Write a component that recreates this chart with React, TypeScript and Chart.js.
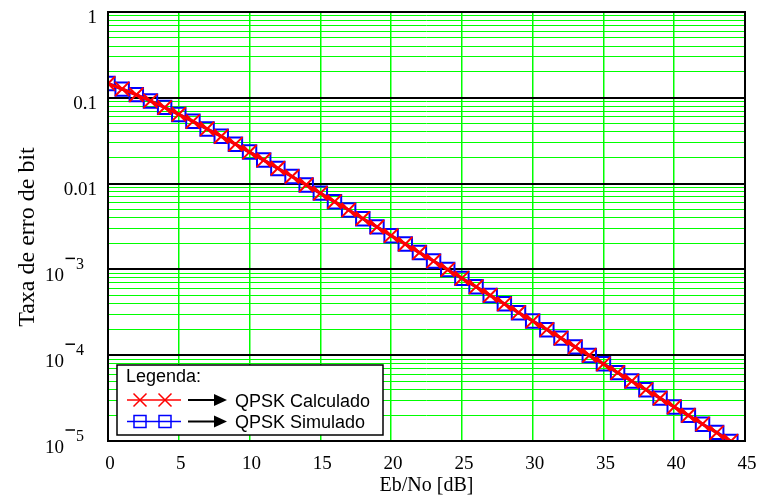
import React, { useEffect, useRef } from "react";
import { Chart, registerables } from "chart.js";

Chart.register(...registerables);

// Eb/No values in dB
const ebNo = [
  0, 1, 2, 3, 4, 5, 6, 7, 8, 9, 10, 11, 12, 13, 14, 15, 16, 17, 18, 19, 20, 21,
  22, 23, 24, 25, 26, 27, 28, 29, 30, 31, 32, 33, 34, 35, 36, 37, 38, 39, 40,
  41, 42, 43, 44,
];

// Bit error rate, analytical curve
const berCalculado = [
  0.1464, 0.1267, 0.1085, 0.0919, 0.0771, 0.0642, 0.053, 0.0435, 0.0355,
  0.0288, 0.0233, 0.0188, 0.0151, 0.0121, 0.00967, 0.00772, 0.00616, 0.00492,
  0.00392, 0.00312, 0.00248, 0.00197, 0.00157, 0.00125, 0.000992, 0.000789,
  0.000627, 0.000498, 0.000396, 0.000314, 0.00025, 0.000199, 0.000158,
  0.000125, 0.0000995, 0.0000791, 0.0000628, 0.0000499, 0.0000396, 0.0000315,
  0.000025, 0.0000199, 0.0000158, 0.0000125, 0.00000995,
];

// Bit error rate, simulation
const berSimulado = [
  0.147, 0.1262, 0.1088, 0.0916, 0.0774, 0.064, 0.0532, 0.0433, 0.0356,
  0.0287, 0.0233, 0.0188, 0.015, 0.0121, 0.00965, 0.00775, 0.00614, 0.00493,
  0.0039, 0.00313, 0.00247, 0.00198, 0.00157, 0.00125, 0.000995, 0.000786,
  0.000629, 0.000496, 0.000398, 0.000313, 0.000251, 0.000198, 0.000158,
  0.000125, 0.0000992, 0.0000793, 0.0000626, 0.00005, 0.0000395, 0.0000316,
  0.0000249, 0.0000199, 0.0000157, 0.0000126, 0.0000099,
];

const xTicks = [0, 5, 10, 15, 20, 25, 30, 35, 40, 45];
const yDecades = [1, 0.1, 0.01, 0.001, 0.0001, 0.00001];
const yDecadeLabels = ["1", "0.1", "0.01", "10|3", "10|4", "10|5"];
const yMinorFactors = [2, 3, 4, 5, 6, 7, 8, 9];

const xTitle = "Eb/No [dB]";
const yTitle = "Taxa de erro de bit";
const legendTitle = "Legenda:";
const legendNames = ["QPSK Calculado", "QPSK Simulado"];

const RED = "#ff0000";
const BLUE = "#0000ff";
const GREEN = "#00ff00";
const SERIF = "'Liberation Serif', 'Times New Roman', serif";
const SANS = "'Liberation Sans', Arial, sans-serif";

const isDecade = (v: number) => {
  const l = Math.log10(v);
  return Math.abs(l - Math.round(l)) < 1e-6;
};

function buildYTicks() {
  const out: { value: number }[] = [];
  for (const d of yDecades) {
    out.push({ value: d });
    if (d < 1) {
      for (const f of yMinorFactors) out.push({ value: d * f });
    }
  }
  return out.sort((a, b) => a.value - b.value);
}

const overlayPlugin = {
  id: "overlay",
  afterDatasetsDraw(chart: any) {
    const { ctx, chartArea: a } = chart;
    ctx.save();
    ctx.strokeStyle = "#000";
    ctx.lineWidth = 2;
    ctx.strokeRect(a.left, a.top, a.right - a.left, a.bottom - a.top);
    ctx.restore();
  },
  afterDraw(chart: any) {
    const { ctx } = chart;
    const xs = chart.scales.x;
    const ys = chart.scales.y;
    ctx.save();
    ctx.fillStyle = "#000";

    // x tick labels
    ctx.font = `19px ${SERIF}`;
    ctx.textAlign = "center";
    ctx.textBaseline = "alphabetic";
    for (const t of xTicks) {
      ctx.fillText(String(t), xs.getPixelForValue(t) + 2, 469);
    }

    // y tick labels
    yDecades.forEach((v, i) => {
      const py = ys.getPixelForValue(v);
      const lab = yDecadeLabels[i];
      if (lab.includes("|")) {
        const [base, exp] = lab.split("|");
        ctx.font = `19px ${SERIF}`;
        ctx.textAlign = "right";
        ctx.fillText(base, 64, py + 11.5);
        ctx.lineWidth = 1.5;
        ctx.strokeStyle = "#000";
        ctx.beginPath();
        ctx.moveTo(65.5, py - 11);
        ctx.lineTo(75, py - 11);
        ctx.stroke();
        ctx.font = `16px ${SERIF}`;
        ctx.textAlign = "left";
        ctx.fillText(exp, 76, py - 0.5);
      } else {
        ctx.font = `19px ${SERIF}`;
        ctx.textAlign = "right";
        ctx.fillText(lab, 97, py + 11);
      }
    });

    // axis titles
    ctx.font = `20px ${SERIF}`;
    ctx.textAlign = "center";
    ctx.fillText(xTitle, (xs.left + xs.right) / 2, 491);
    ctx.save();
    ctx.translate(34, 237);
    ctx.rotate(-Math.PI / 2);
    ctx.font = `24px ${SERIF}`;
    ctx.textAlign = "center";
    ctx.fillText(yTitle, 0, 0);
    ctx.restore();

    // legend box
    const bx = 117, by = 365, bw = 266, bh = 70;
    ctx.fillStyle = "#fff";
    ctx.fillRect(bx, by, bw, bh);
    ctx.strokeStyle = "#000";
    ctx.lineWidth = 1.5;
    ctx.strokeRect(bx, by, bw, bh);
    ctx.fillStyle = "#000";
    ctx.font = `18px ${SANS}`;
    ctx.textAlign = "left";
    ctx.fillText(legendTitle, 126, 382);

    const rows = [400, 421.5];
    rows.forEach((ry, i) => {
      const color = i === 0 ? RED : BLUE;
      ctx.strokeStyle = color;
      ctx.lineWidth = 1.5;
      ctx.beginPath();
      ctx.moveTo(127, ry);
      ctx.lineTo(181, ry);
      ctx.stroke();
      for (const mx of [140, 165]) {
        ctx.beginPath();
        if (i === 0) {
          const h = 6.5;
          ctx.moveTo(mx - h, ry - h);
          ctx.lineTo(mx + h, ry + h);
          ctx.moveTo(mx - h, ry + h);
          ctx.lineTo(mx + h, ry - h);
        } else {
          ctx.rect(mx - 6, ry - 6, 12, 12);
        }
        ctx.stroke();
      }
      // arrow
      ctx.strokeStyle = "#000";
      ctx.lineWidth = 2;
      ctx.beginPath();
      ctx.moveTo(188, ry);
      ctx.lineTo(216, ry);
      ctx.stroke();
      ctx.fillStyle = "#000";
      ctx.beginPath();
      ctx.moveTo(214, ry - 6);
      ctx.lineTo(227, ry);
      ctx.lineTo(214, ry + 6);
      ctx.closePath();
      ctx.fill();
      ctx.font = `18px ${SANS}`;
      ctx.fillText(legendNames[i], 235, ry + 6.5);
    });

    ctx.restore();
  },
};

export default function App() {
  const canvasRef = useRef<HTMLCanvasElement | null>(null);

  useEffect(() => {
    document.body.style.margin = "0";
    const canvas = canvasRef.current;
    if (!canvas) return;

    const chart = new Chart(canvas, {
      type: "line",
      data: {
        datasets: [
          {
            label: legendNames[0],
            data: ebNo.map((x, i) => ({ x, y: berCalculado[i] })),
            borderColor: RED,
            borderWidth: 3,
            pointStyle: "crossRot",
            pointRadius: 10,
            pointBorderWidth: 2,
            pointBorderColor: RED,
            pointBackgroundColor: RED,
            tension: 0,
            clip: 0,
          },
          {
            label: legendNames[1],
            data: ebNo.map((x, i) => ({ x, y: berSimulado[i] })),
            borderColor: BLUE,
            borderWidth: 3,
            pointStyle: "rect",
            pointRadius: 9.5,
            pointBorderWidth: 2,
            pointBorderColor: BLUE,
            pointBackgroundColor: "rgba(0,0,0,0)",
            tension: 0,
            clip: 0,
          },
        ],
      },
      options: {
        animation: false,
        responsive: false,
        events: [],
        layout: { padding: { left: 0, right: 13, top: 12, bottom: 0 } },
        plugins: {
          legend: { display: false },
          tooltip: { enabled: false },
        },
        scales: {
          x: {
            type: "linear",
            min: 0,
            max: 45,
            afterBuildTicks: (s: any) => {
              s.ticks = xTicks.map((v) => ({ value: v }));
            },
            afterFit: (s: any) => {
              s.height = 57;
            },
            ticks: { display: false },
            border: { display: false },
            grid: {
              color: GREEN,
              lineWidth: 1.5,
              drawTicks: false,
            },
          },
          y: {
            type: "logarithmic",
            min: 0.00001,
            max: 1,
            afterBuildTicks: (s: any) => {
              s.ticks = buildYTicks();
            },
            afterFit: (s: any) => {
              s.width = 108;
            },
            ticks: { display: false },
            border: { display: false },
            grid: {
              drawTicks: false,
              color: (c: any) => (isDecade(c.tick.value) ? "#000" : GREEN),
              lineWidth: (c: any) => (isDecade(c.tick.value) ? 2 : 1),
            },
          },
        },
      },
      plugins: [overlayPlugin],
    } as any);

    return () => chart.destroy();
  }, []);

  return (
    <div style={{ width: 758, height: 498 }}>
      <canvas ref={canvasRef} width={758} height={498} />
    </div>
  );
}
